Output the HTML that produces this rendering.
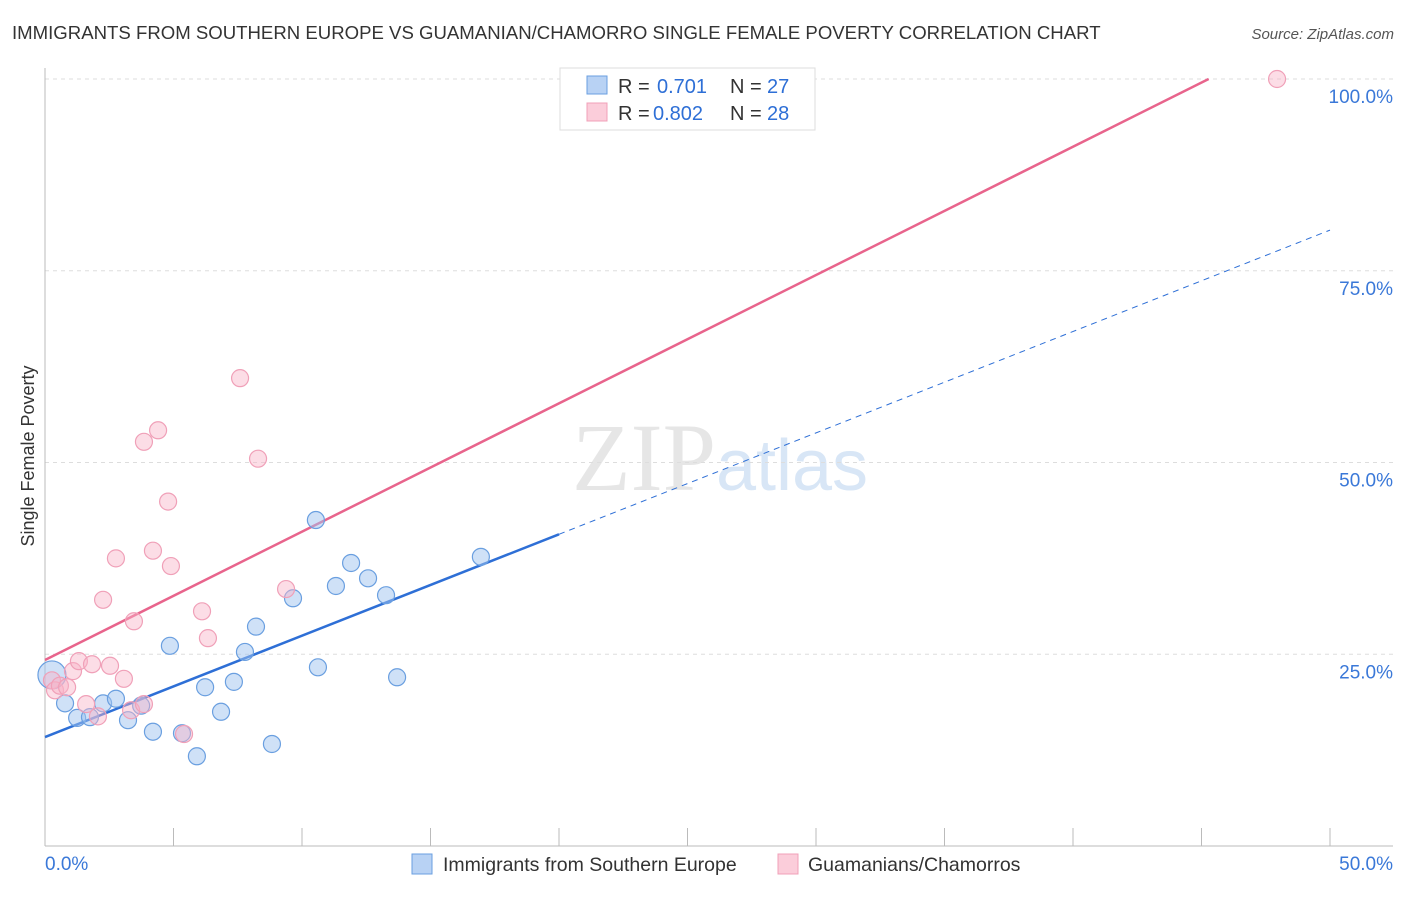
<!DOCTYPE html>
<html><head><meta charset="utf-8"><style>
body{margin:0;background:#fff;font-family:"Liberation Sans",sans-serif;}
</style></head><body>
<svg id="chart" width="1406" height="892" xmlns="http://www.w3.org/2000/svg" font-family="Liberation Sans, sans-serif">
<text x="12" y="39" font-size="18.6" fill="#333">IMMIGRANTS FROM SOUTHERN EUROPE VS GUAMANIAN/CHAMORRO SINGLE FEMALE POVERTY CORRELATION CHART</text>
<text x="1394" y="39" font-size="15" fill="#555" text-anchor="end" font-style="italic">Source: ZipAtlas.com</text>
<text x="720" y="490" font-size="96" text-anchor="middle" font-family="Liberation Serif, serif" fill="#e6e6e6">ZIP<tspan fill="#d8e6f6" font-family="Liberation Sans, sans-serif" font-size="72">atlas</tspan></text>
<g id="grid"></g>
<g id="axes"></g>
<g id="lines"></g>
<g id="points"></g>
<text transform="translate(34,456) rotate(-90)" font-size="18" fill="#333" text-anchor="middle">Single Female Poverty</text>
<g font-size="20">
<rect x="560" y="68" width="255" height="62" fill="#fff" stroke="#ddd"/>
<rect x="587" y="76" width="20" height="18" fill="#b8d2f4" stroke="#6a9fe0"/>
<text x="618" y="93" fill="#333">R =</text><text x="657" y="93" fill="#2e6fd6">0.701</text>
<text x="730" y="93" fill="#333">N =</text><text x="767" y="93" fill="#2e6fd6">27</text>
<rect x="587" y="103" width="20" height="18" fill="#fbcdda" stroke="#f0a0b8"/>
<text x="618" y="120" fill="#333">R =</text><text x="653" y="120" fill="#2e6fd6">0.802</text>
<text x="730" y="120" fill="#333">N =</text><text x="767" y="120" fill="#2e6fd6">28</text>
</g>
<g font-size="19.5">
<rect x="412" y="854" width="20" height="20" fill="#b8d2f4" stroke="#6a9fe0"/>
<text x="443" y="871" fill="#333">Immigrants from Southern Europe</text>
<rect x="778" y="854" width="20" height="20" fill="#fbcdda" stroke="#f0a0b8"/>
<text x="808" y="871" fill="#333">Guamanians/Chamorros</text>
</g>
</svg>
<script>
const blueX=[0.27,0.78,1.25,1.75,2.26,2.76,3.23,3.74,4.2,4.86,5.33,5.91,6.23,6.85,7.35,7.78,8.21,8.83,9.65,10.54,10.62,11.32,11.91,12.57,13.27,13.7,16.96];
const blueY=[22.3,18.6,16.7,16.8,18.6,19.2,16.4,18.3,14.9,26.1,14.7,11.7,20.7,17.5,21.4,25.3,28.6,13.3,32.3,42.5,23.3,33.9,36.9,34.9,32.7,22.0,37.7];
const pinkX=[0.27,0.39,0.58,0.86,1.09,1.32,1.83,1.6,2.06,2.26,2.53,2.76,3.07,3.46,3.35,3.85,3.85,4.2,4.4,4.79,4.9,5.41,6.11,6.34,7.59,8.29,9.38,47.94];
const pinkY=[21.6,20.3,20.9,20.7,22.8,24.1,23.7,18.5,16.9,32.1,23.5,37.5,21.8,29.3,17.7,52.7,18.5,38.5,54.2,44.9,36.5,14.6,30.6,27.1,61.0,50.5,33.5,100];
const blueTrend=[14.2,80.3]; // at x=0, x=50
const pinkTrend=[24.25,107.9];
const yTicks=[25,50,75,100];
const xTicks=[0,5,10,15,20,25,30,35,40,45,50];
const NS="http://www.w3.org/2000/svg";
const X=v=>45+v*25.7, Y=v=>846-v*7.67;
function mk(t,a,p){const e=document.createElementNS(NS,t);for(const k in a)e.setAttribute(k,a[k]);document.getElementById(p).appendChild(e);return e;}
yTicks.forEach(t=>{
 const l=mk('line',{x1:45,x2:1393,y1:Y(t),y2:Y(t),stroke:'#ddd','stroke-dasharray':'4,4'},'grid');
 
 
 const tx=mk('text',{x:1393,y:Y(t)+24,'font-size':19,fill:'#3a78d8','text-anchor':'end'},'axes');
 tx.textContent=t.toFixed(1)+'%';
 
 
});
mk('line',{x1:45,x2:45,y1:68,y2:846,stroke:'#bbb'},'axes');
mk('line',{x1:45,x2:1393,y1:846,y2:846,stroke:'#bbb'},'axes');
xTicks.forEach(t=>{
 const l=mk('line',{x1:X(t),x2:X(t),y1:828,y2:846,stroke:'#bbb'},'axes');
 
 
});
[[0,'0.0%','start',45],[50,'50.0%','end',1393]].forEach(([v,s,a,px])=>{
 const tx=mk('text',{x:px,y:870,'font-size':19,fill:'#3a78d8','text-anchor':a},'axes');tx.textContent=s;
 
 
});
const bAt=x=>blueTrend[0]+(blueTrend[1]-blueTrend[0])*x/50;
const pAt=x=>pinkTrend[0]+(pinkTrend[1]-pinkTrend[0])*x/50;
let l=mk('line',{x1:X(0),y1:Y(bAt(0)),x2:X(20),y2:Y(bAt(20)),stroke:'#2e6fd6','stroke-width':2.5},'lines');


l=mk('line',{x1:X(20),y1:Y(bAt(20)),x2:X(50),y2:Y(bAt(50)),stroke:'#2e6fd6','stroke-width':1,'stroke-dasharray':'6,5'},'lines');


const pEnd=(100-pinkTrend[0])/((pinkTrend[1]-pinkTrend[0])/50);
l=mk('line',{x1:X(0),y1:Y(pAt(0)),x2:X(Math.min(50,pEnd)),y2:Y(pAt(Math.min(50,pEnd))),stroke:'#e8648c','stroke-width':2.5},'lines');


blueX.forEach((x,i)=>{
 const c=mk('circle',{cx:X(x),cy:Y(blueY[i]),r:i==0?14:8.5,fill:'rgba(160,196,240,0.5)',stroke:'#6a9fe0','stroke-width':1.2},'points');
 
 
});
pinkX.forEach((x,i)=>{
 const c=mk('circle',{cx:X(x),cy:Y(pinkY[i]),r:8.5,fill:'rgba(248,180,200,0.45)',stroke:'#f0a0b8','stroke-width':1.2},'points');
 
 
});
</script>
</body></html>
